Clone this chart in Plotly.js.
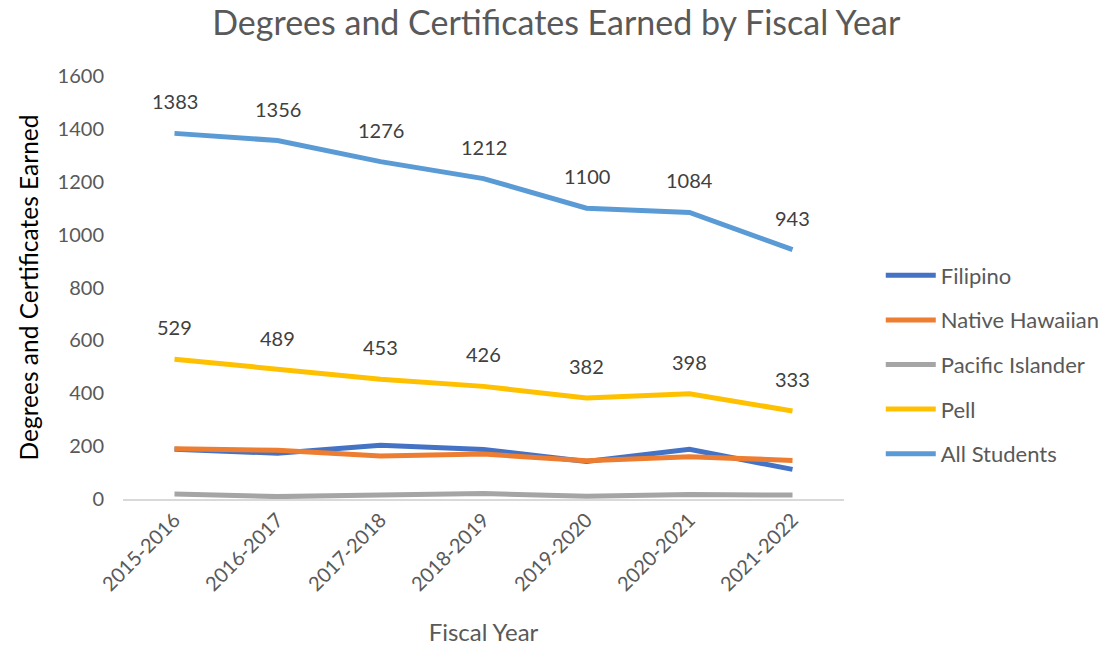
<!DOCTYPE html>
<html>
<head>
<meta charset="utf-8">
<script src="https://cdn.plot.ly/plotly-3.0.1.min.js"></script>
<style>html,body{margin:0;padding:0;background:#fff;}#chart{width:1117px;height:650px;}</style>
</head>
<body>
<div id="chart"></div>
<script>
const years = ["2015-2016","2016-2017","2017-2018","2018-2019","2019-2020","2020-2021","2021-2022"];
const filipino = [188, 173, 203, 187, 142, 188, 112];
const nativeHawaiian = [190, 184, 163, 170, 145, 160, 146];
const pacificIslander = [19, 9, 15, 21, 10, 17, 15];
const pell = [529, 489, 453, 426, 382, 398, 333];
const allStudents = [1383, 1356, 1276, 1212, 1100, 1084, 943];

const seriesNames = ["Filipino","Native Hawaiian","Pacific Islander","Pell","All Students"];
const seriesValues = [filipino, nativeHawaiian, pacificIslander, pell, allStudents];
const colors = ["#4472C4","#ED7D31","#A5A5A5","#FFC000","#5B9BD5"];
const font = "Lato, 'Open Sans', sans-serif";

const traces = seriesNames.map((n,i)=>({
  x: years, y: seriesValues[i], name: n, type: 'scatter', mode: 'lines',
  line: {color: colors[i], width: 5}, legendgroup: 'g'+i, hoverinfo: 'skip'
}));

const annotations = [];
[pell, allStudents].forEach(arr => {
  arr.forEach((v,j)=>{
    annotations.push({x: years[j], y: v, text: String(v), showarrow: false, yshift: 32,
      font: {family: font, size: 20, color: '#404040'}, xref: 'x', yref: 'y'});
  });
});

const layout = {
  width: 1117, height: 650,
  margin: {l: 123, r: 271, t: 76, b: 151},
  paper_bgcolor: '#fff', plot_bgcolor: '#fff',
  title: {text: 'Degrees and Certificates Earned by Fiscal Year', x: 0.498, xanchor: 'center', y: 0.965, yanchor: 'middle',
    font: {family: font, size: 34, color: '#595959'}},
  xaxis: {type: 'category', range: [-0.5, 6.5], tickangle: -45, showgrid: false, zeroline: false,
    showline: true, linecolor: '#D9D9D9', linewidth: 1.5, ticks: '',
    tickfont: {family: font, size: 20, color: '#595959'},
    title: {text: 'Fiscal Year', font: {family: font, size: 24, color: '#595959'}, standoff: 30}},
  yaxis: {range: [0, 1600], dtick: 200, showgrid: false, zeroline: false, showline: false, ticks: '',
    tickfont: {family: font, size: 20, color: '#595959'}, ticklabelstandoff: 18,
    title: {text: 'Degrees and Certificates Earned', font: {family: font, size: 24.5, color: '#000'}, standoff: 12}},
  legend: {x: 1.051, xanchor: 'left', y: 0.318, yanchor: 'middle', traceorder: 'grouped', tracegroupgap: 13,
    font: {family: font, size: 22, color: '#595959'}, itemwidth: 50},
  annotations: annotations,
  showlegend: true
};

Plotly.newPlot('chart', traces, layout, {displayModeBar: false, staticPlot: true});
</script>
</body>
</html>
